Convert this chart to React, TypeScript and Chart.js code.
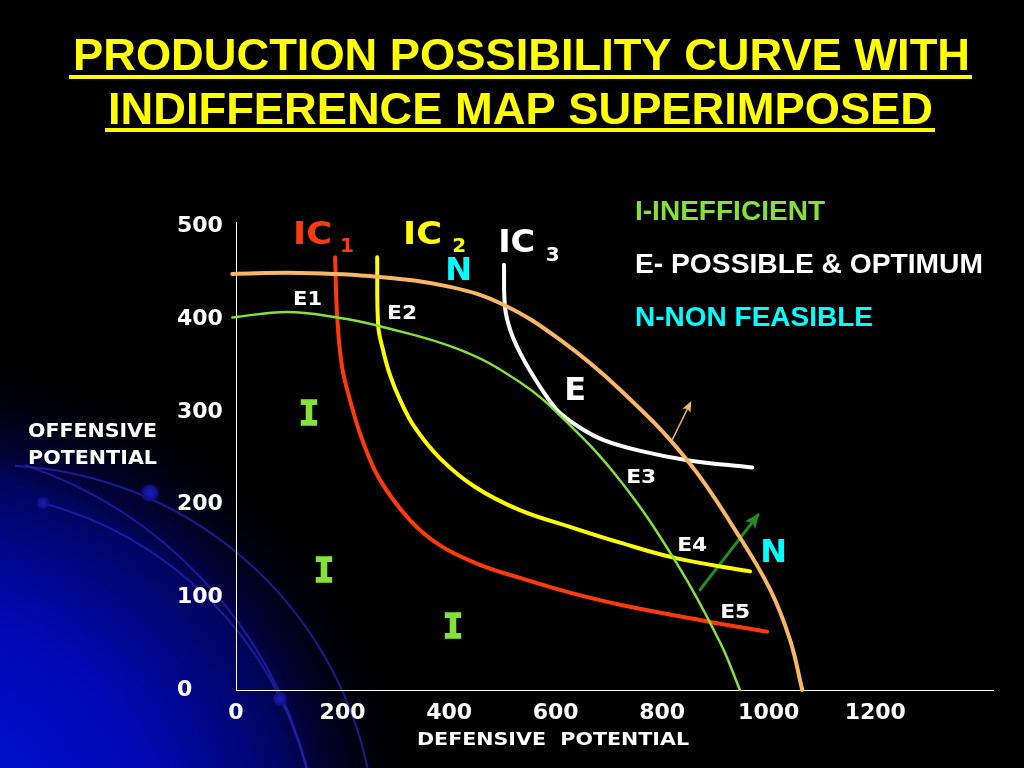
import React, { useEffect, useRef } from "react";
import { Chart, registerables } from "chart.js";

Chart.register(...registerables);

// ---------- data ----------
const X_TICKS = [0, 200, 400, 600, 800, 1000, 1200];
const Y_TICKS = [0, 100, 200, 300, 400, 500];
const X_MAX = 1421;
const Y_MAX = 505;

// Outer production possibility curve (orange)
const PPC_OUTER_X = [-7, 120, 265, 402, 501, 608, 721, 847, 941, 1003, 1040, 1063];
const PPC_OUTER_Y = [449, 450, 446, 435, 416, 378, 324, 248, 169, 108, 54, 0];
// Inner production possibility curve (green)
const PPC_INNER_X = [-7, 96, 190, 267, 421, 533, 614, 721, 828, 909, 946];
const PPC_INNER_Y = [402, 408, 402, 393, 367, 332, 293, 226, 136, 51, 0];
// Indifference curves
const IC1_X = [186, 190, 199, 214, 237, 270, 327, 383, 458, 533, 627, 721, 885, 997];
const IC1_Y = [467, 402, 349, 313, 270, 227, 183, 156, 135, 121, 105, 92, 74, 63];
const IC2_X = [265, 267, 276, 289, 308, 336, 383, 449, 533, 627, 721, 828, 965];
const IC2_Y = [467, 393, 367, 340, 313, 283, 250, 219, 194, 176, 159, 142, 128];
const IC3_X = [503, 505, 515, 533, 562, 590, 608, 646, 689, 759, 847, 969];
const IC3_Y = [459, 413, 388, 364, 335, 311, 299, 283, 270, 258, 248, 240];
// Arrows
const SHIFT_ARROW_X = [819, 853];
const SHIFT_ARROW_Y = [270, 310];
const GROWTH_ARROW_X = [871, 980];
const GROWTH_ARROW_Y = [108, 189];

const TITLE_LINES = ["PRODUCTION POSSIBILITY CURVE WITH", "INDIFFERENCE MAP SUPERIMPOSED"];
const LEGEND_LINES = ["I-INEFFICIENT", "E- POSSIBLE & OPTIMUM", "N-NON FEASIBLE"];
const X_TITLE = "DEFENSIVE  POTENTIAL";
const Y_TITLE = ["OFFENSIVE", "POTENTIAL"];

// ---------- styles ----------
const RED = "#ff3a0a";
const YELLOW = "#ffff00";
const WHITE = "#ffffff";
const ORANGE = "#f7b766";
const LIME = "#86e03a";
const CYAN = "#00ffff";
const DARKGREEN = "#1f8f1f";

const SANS = "'DejaVu Sans', Verdana, sans-serif";
const MONO = "'DejaVu Sans Mono', monospace";
const ARIAL = "'Liberation Sans', Arial, sans-serif";

type PlotLabel = { t: string; x: number; y: number; size: number; color: string; w?: number; fam?: string; bold?: number };

const PLOT_LABELS: PlotLabel[] = [
  { t: "IC", x: 143.7, y: 494.2, size: 32, w: 39, color: RED },
  { t: "1", x: 208.5, y: 480.2, size: 20, color: RED },
  { t: "IC", x: 350.2, y: 494.2, size: 32, w: 39, color: YELLOW },
  { t: "2", x: 418.8, y: 480.2, size: 20, color: YELLOW },
  { t: "IC", x: 526.8, y: 485.6, size: 32, w: 37, color: WHITE },
  { t: "3", x: 594.4, y: 470.5, size: 20, color: WHITE },
  { t: "N", x: 417.8, y: 454.8, size: 32, color: CYAN },
  { t: "E1", x: 134.3, y: 423.5, size: 20, w: 29, color: WHITE },
  { t: "E2", x: 311.7, y: 408.4, size: 20, w: 30, color: WHITE },
  { t: "E", x: 636.6, y: 325.3, size: 32, color: WHITE },
  { t: "E3", x: 760.6, y: 230.9, size: 20, w: 30, color: WHITE },
  { t: "E4", x: 856.3, y: 158.1, size: 20, w: 30, color: WHITE },
  { t: "E5", x: 937.1, y: 85.2, size: 20, w: 30, color: WHITE },
  { t: "N", x: 1009.4, y: 151.1, size: 32, color: CYAN },
  { t: "I", x: 137.1, y: 299.4, size: 34, color: LIME, fam: MONO, bold: 1.6 },
  { t: "I", x: 165.3, y: 129.5, size: 34, color: LIME, fam: MONO, bold: 1.6 },
  { t: "I", x: 407.5, y: 69.1, size: 34, color: LIME, fam: MONO, bold: 1.6 },
];

function pts(xs: number[], ys: number[]) {
  return xs.map((x, i) => ({ x, y: ys[i] }));
}

function fitText(
  ctx: CanvasRenderingContext2D,
  text: string,
  left: number,
  baseline: number,
  width: number | undefined,
  font: string,
  color: string,
  align: "left" | "center" = "left",
  bold = 0
) {
  ctx.save();
  ctx.font = font;
  ctx.fillStyle = color;
  ctx.strokeStyle = color;
  ctx.lineWidth = bold;
  ctx.lineJoin = "miter";
  ctx.textBaseline = "alphabetic";
  if (width === undefined) {
    ctx.textAlign = align;
    ctx.fillText(text, left, baseline);
    if (bold) ctx.strokeText(text, left, baseline);
  } else {
    ctx.textAlign = "left";
    const w = ctx.measureText(text).width;
    const s = width / w;
    const lx = align === "center" ? left - width / 2 : left;
    ctx.translate(lx, baseline);
    ctx.scale(s, 1);
    ctx.fillText(text, 0, 0);
    if (bold) ctx.strokeText(text, 0, 0);
  }
  ctx.restore();
}

// decorative circular arcs of the slide template: [cx, cy, r, startX]
const DECOR_ARCS = [
  [-7, 848, 383, 15],
  [-115, 878, 436, 25],
  [-55, 864, 374, 40],
];
const DECOR_DOTS = [
  [150, 493, 10],
  [43, 503, 7],
  [280, 699, 8],
];

const backgroundPlugin = {
  id: "slideBackground",
  beforeDraw(chart: any) {
    const ctx: CanvasRenderingContext2D = chart.ctx;
    const W = chart.width;
    const H = chart.height;
    ctx.save();
    ctx.fillStyle = "#000";
    ctx.fillRect(0, 0, W, H);
    const g = ctx.createRadialGradient(-80, 850, 0, -80, 850, 500);
    g.addColorStop(0, "#0014e0");
    g.addColorStop(0.5, "#0008b0");
    g.addColorStop(0.75, "#000560");
    g.addColorStop(1, "rgba(0,0,0,0)");
    ctx.fillStyle = g;
    ctx.fillRect(0, 0, W, H);
    ctx.strokeStyle = "rgba(36,36,180,0.75)";
    ctx.lineWidth = 2;
    for (const [cx, cy, r, sx] of DECOR_ARCS) {
      const a0 = Math.atan2(-Math.sqrt(r * r - (sx - cx) * (sx - cx)), sx - cx);
      const a1 = Math.atan2(H - cy, Math.sqrt(r * r - (H - cy) * (H - cy)));
      ctx.beginPath();
      ctx.arc(cx, cy, r, a0, a1);
      ctx.stroke();
    }
    for (const [x, y, r] of DECOR_DOTS) {
      const dg = ctx.createRadialGradient(x, y, 0, x, y, r);
      dg.addColorStop(0, "#1c1cb4");
      dg.addColorStop(0.7, "#10108f");
      dg.addColorStop(1, "rgba(16,16,120,0)");
      ctx.fillStyle = dg;
      ctx.beginPath();
      ctx.arc(x, y, r, 0, Math.PI * 2);
      ctx.fill();
    }
    ctx.restore();
  },
};

const arrowPlugin = {
  id: "arrowHeads",
  afterDatasetsDraw(chart: any) {
    const ctx: CanvasRenderingContext2D = chart.ctx;
    chart.data.datasets.forEach((ds: any, i: number) => {
      if (!ds.arrowHead) return;
      const meta = chart.getDatasetMeta(i);
      const n = meta.data.length;
      const a = meta.data[n - 2];
      const b = meta.data[n - 1];
      const ang = Math.atan2(b.y - a.y, b.x - a.x);
      const L = ds.arrowHead.len;
      const hw = ds.arrowHead.half;
      ctx.save();
      ctx.fillStyle = ds.borderColor;
      ctx.translate(b.x, b.y);
      ctx.rotate(ang);
      ctx.beginPath();
      ctx.moveTo(2, 0);
      ctx.lineTo(-L, -hw);
      ctx.lineTo(-L * 0.75, 0);
      ctx.lineTo(-L, hw);
      ctx.closePath();
      ctx.fill();
      ctx.restore();
    });
  },
};

const textPlugin = {
  id: "slideTexts",
  afterDraw(chart: any) {
    const ctx: CanvasRenderingContext2D = chart.ctx;
    const xs = chart.scales.x;
    const ys = chart.scales.y;
    fitText(ctx, TITLE_LINES[0], 73, 70, 897, `bold 45px ${ARIAL}`, YELLOW);
    fitText(ctx, TITLE_LINES[1], 108, 124, 825, `bold 45px ${ARIAL}`, YELLOW);
    ctx.save();
    ctx.fillStyle = YELLOW;
    ctx.fillRect(69, 75, 903, 4);
    ctx.fillRect(105, 128, 830, 4);
    ctx.restore();
    fitText(ctx, LEGEND_LINES[0], 635, 220, 190, `bold 28px ${ARIAL}`, LIME);
    fitText(ctx, LEGEND_LINES[1], 635, 273, 348, `bold 28px ${ARIAL}`, WHITE);
    fitText(ctx, LEGEND_LINES[2], 635, 326, 238, `bold 28px ${ARIAL}`, CYAN);
    fitText(ctx, Y_TITLE[0], 28, 437, 129, `bold 20px ${SANS}`, WHITE);
    fitText(ctx, Y_TITLE[1], 28, 464, 129, `bold 20px ${SANS}`, WHITE);
    fitText(ctx, X_TITLE, 417, 745, 272, `bold 18px ${SANS}`, WHITE);
    for (const l of PLOT_LABELS) {
      const cx = xs.getPixelForValue(l.x);
      const cy = ys.getPixelForValue(l.y);
      const base = cy + (l.size * 0.729) / 2;
      fitText(ctx, l.t, cx, base, l.w, `bold ${l.size}px ${l.fam || SANS}`, l.color, "center", l.bold || 0);
    }
  },
};

export default function App() {
  const ref = useRef<HTMLCanvasElement | null>(null);
  useEffect(() => {
    if (!ref.current) return;
    const line = (data: any, color: string, width: number, extra: any = {}) => ({
      data,
      borderColor: color,
      backgroundColor: color,
      borderWidth: width,
      pointRadius: 0,
      fill: false,
      tension: 0.4,
      borderCapStyle: "round",
      clip: false,
      ...extra,
    });
    const chart = new Chart(ref.current, {
      type: "line",
      data: {
        datasets: [
          line(pts(PPC_OUTER_X, PPC_OUTER_Y), ORANGE, 4),
          line(pts(PPC_INNER_X, PPC_INNER_Y), LIME, 2.5),
          line(pts(IC1_X, IC1_Y), RED, 4),
          line(pts(IC2_X, IC2_Y), YELLOW, 4),
          line(pts(IC3_X, IC3_Y), WHITE, 4),
          line(pts(SHIFT_ARROW_X, SHIFT_ARROW_Y), ORANGE, 1.5, { tension: 0, arrowHead: { len: 9, half: 4.5 } }),
          line(pts(GROWTH_ARROW_X, GROWTH_ARROW_Y), DARKGREEN, 3, { tension: 0, arrowHead: { len: 13, half: 6.5 } }),
        ],
      } as any,
      options: {
        responsive: false,
        animation: false,
        devicePixelRatio: 1,
        events: [],
        layout: { padding: { left: 177, top: 222, right: 31, bottom: 0 } },
        plugins: { legend: { display: false }, tooltip: { enabled: false }, title: { display: false } },
        scales: {
          x: {
            type: "linear",
            min: 0,
            max: X_MAX,
            afterBuildTicks: (s: any) => {
              s.ticks = X_TICKS.map((v) => ({ value: v }));
            },
            afterFit: (s: any) => {
              s.height = 78;
            },
            grid: { display: false, drawTicks: false },
            border: { display: true, color: "#ffffff", width: 1 },
            ticks: {
              color: "#ffffff",
              font: { family: SANS, weight: "bold", size: 22 },
              padding: 10,
              maxRotation: 0,
              autoSkip: false,
              callback: (v: any) => String(v),
            },
          },
          y: {
            type: "linear",
            min: 0,
            max: Y_MAX,
            afterBuildTicks: (s: any) => {
              s.ticks = Y_TICKS.map((v) => ({ value: v }));
            },
            afterFit: (s: any) => {
              s.width = 59;
            },
            grid: { display: false, drawTicks: false },
            border: { display: true, color: "#ffffff", width: 1 },
            ticks: {
              color: "#ffffff",
              font: { family: SANS, weight: "bold", size: 22 },
              crossAlign: "far",
              autoSkip: false,
              callback: (v: any) => String(v),
            },
          },
        },
      } as any,
      plugins: [backgroundPlugin, arrowPlugin, textPlugin],
    });
    return () => chart.destroy();
  }, []);
  return (
    <div style={{ position: "fixed", left: 0, top: 0, width: 1024, height: 768, background: "#000" }}>
      <canvas ref={ref} width={1024} height={768} style={{ display: "block", width: 1024, height: 768 }} />
    </div>
  );
}
